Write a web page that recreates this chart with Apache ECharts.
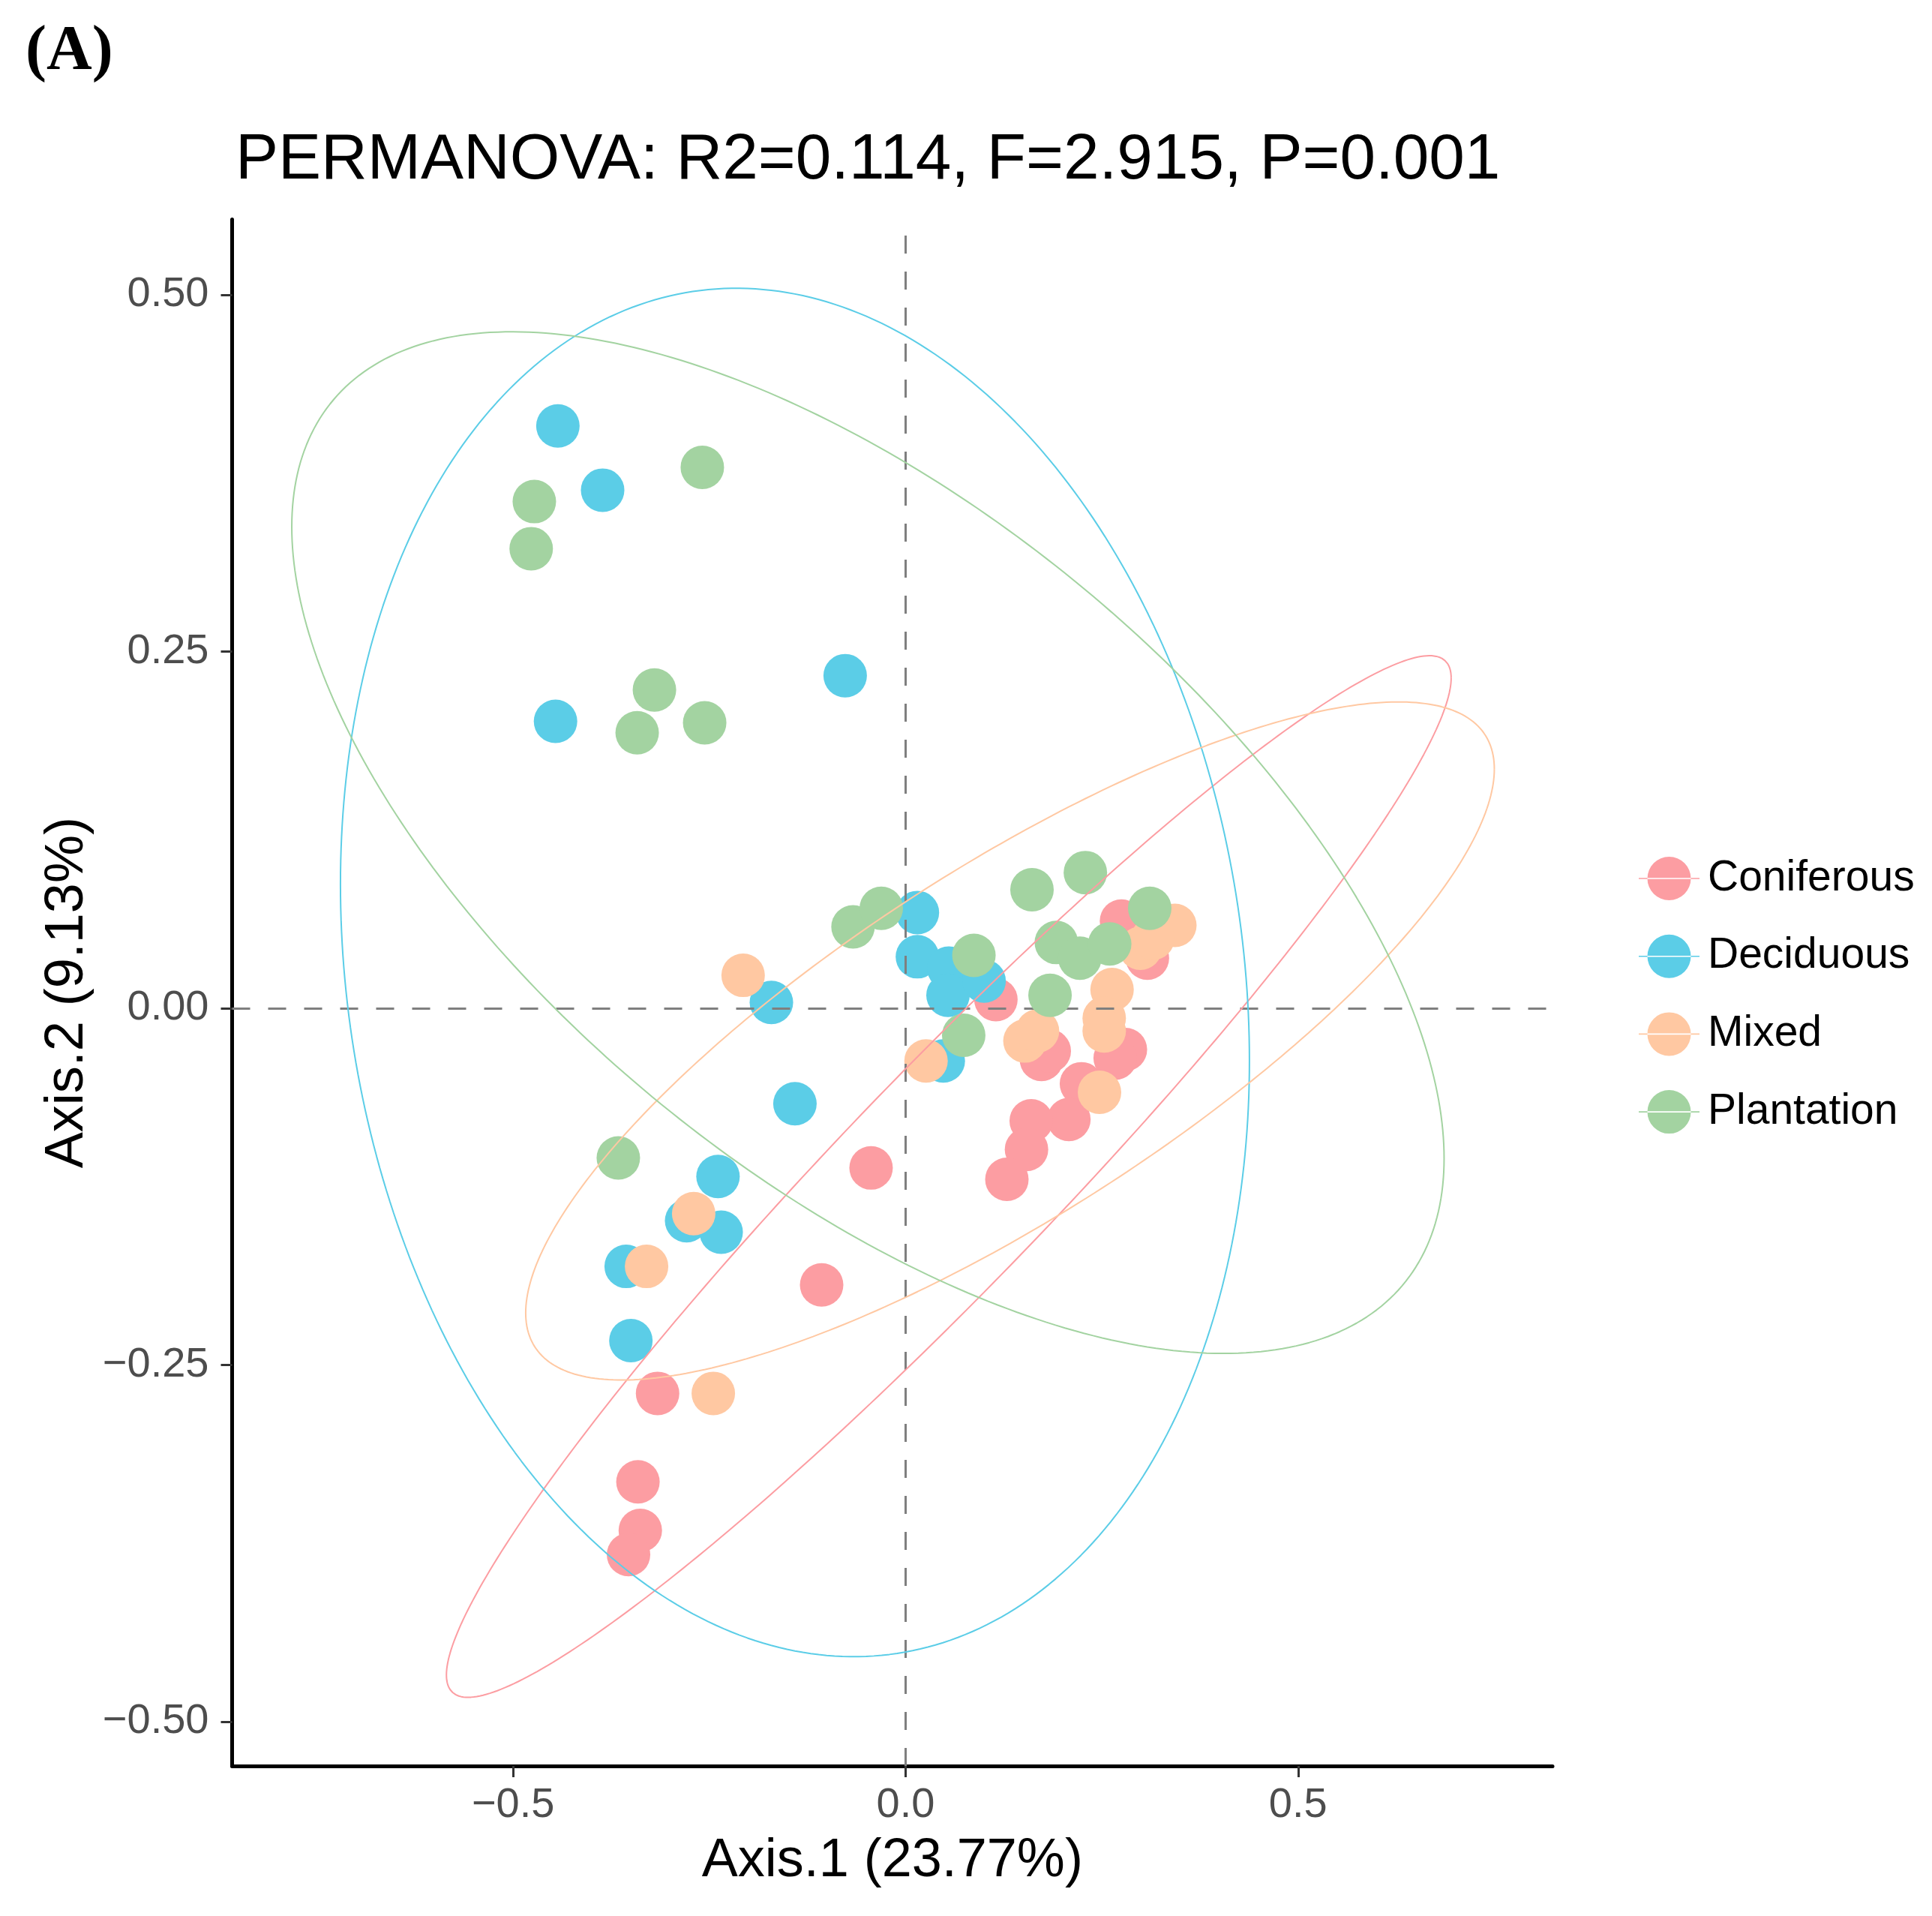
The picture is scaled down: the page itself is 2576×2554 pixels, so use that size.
<!DOCTYPE html>
<html>
<head>
<meta charset="utf-8">
<script src="https://cdn.jsdelivr.net/npm/echarts@6/dist/echarts.min.js"></script>
<style>
html,body{margin:0;padding:0;background:#ffffff;}
#chart{width:2576px;height:2554px;}
</style>
</head>
<body>
<div id="chart"></div>
<script>
// ---------- data ----------
const categories = ['Coniferous', 'Deciduous', 'Mixed', 'Plantation'];

const coniferous = [
  [-0.044, -0.112], [-0.107, -0.194], [-0.316, -0.270], [-0.341, -0.332],
  [-0.338, -0.366], [-0.353, -0.383], [0.115, 0.006], [0.275, 0.061],
  [0.308, 0.035], [0.173, -0.036], [0.183, -0.030], [0.280, -0.029],
  [0.267, -0.035], [0.224, -0.053], [0.208, -0.078], [0.160, -0.079],
  [0.154, -0.099], [0.129, -0.120]
];
const deciduous = [
  [-0.443, 0.408], [-0.386, 0.363], [-0.077, 0.233], [-0.446, 0.201],
  [-0.171, 0.004], [-0.141, -0.067], [-0.239, -0.118], [-0.279, -0.149],
  [-0.235, -0.157], [-0.356, -0.181], [-0.350, -0.233], [0.015, 0.067],
  [0.015, 0.036], [0.055, 0.028], [0.054, 0.009], [0.100, 0.019],
  [0.048, -0.037]
];
const mixed = [
  [-0.207, 0.023], [-0.270, -0.144], [-0.330, -0.181], [-0.245, -0.270],
  [0.026, -0.037], [0.152, -0.023], [0.168, -0.016], [0.263, 0.013],
  [0.253, -0.007], [0.253, -0.016], [0.247, -0.059], [0.343, 0.058],
  [0.299, 0.042], [0.315, 0.049]
];
const plantation = [
  [-0.259, 0.379], [-0.473, 0.355], [-0.477, 0.322], [-0.320, 0.223],
  [-0.342, 0.193], [-0.256, 0.200], [-0.366, -0.105], [-0.067, 0.057],
  [-0.031, 0.070], [0.087, 0.037], [0.161, 0.083], [0.229, 0.095],
  [0.311, 0.070], [0.192, 0.046], [0.222, 0.035], [0.260, 0.045],
  [0.184, 0.009], [0.074, -0.019]
];

// ellipse: [centre x, centre y, half-width x, half-height y, correlation]
const ellipseConiferous = [0.055, -0.118, 0.640, 0.365, 0.957];
const ellipseDeciduous  = [-0.141, 0.025, 0.579, 0.4795, -0.129];
const ellipseMixed      = [0.133, -0.023, 0.617, 0.2376, 0.802];
const ellipsePlantation = [-0.048, 0.116, 0.734, 0.358, -0.618];

const xTicks = [-0.5, 0, 0.5];
const yTicks = [-0.5, -0.25, 0, 0.25, 0.5];

const titleText = 'PERMANOVA: R2=0.114, F=2.915, P=0.001';
const xName = 'Axis.1 (23.77%)';
const yName = 'Axis.2 (9.13%)';
const panelTag = '(A)';

// ---------- styles ----------
const colors = ['#FC9DA2', '#5BCDE7', '#FFC8A2', '#A3D3A1'];
const FONT = '"Liberation Sans", Arial, Helvetica, sans-serif';

function ellipseOutline(p) {
  const cx = p[0], cy = p[1], hx = p[2], hy = p[3], r = p[4];
  const s = Math.sqrt(1 - r * r);
  const pts = [];
  for (let i = 0; i <= 360; i++) {
    const t = i * Math.PI / 180;
    pts.push([cx + hx * Math.cos(t), cy + hy * (r * Math.cos(t) + s * Math.sin(t))]);
  }
  return pts;
}
function minusFmt(str) { return str.replace('-', '\u2212'); }

const pointSets = [coniferous, deciduous, mixed, plantation];
const ellipseSets = [ellipseConiferous, ellipseDeciduous, ellipseMixed, ellipsePlantation];

const series = [];
series.push({
  type: 'scatter', name: 'refLines', data: [], silent: true, z: 1,
  markLine: {
    silent: true, animation: false, symbol: ['none', 'none'],
    label: { show: false },
    lineStyle: { color: '#7F7F7F', width: 3, type: [24, 24] },
    data: [{ xAxis: 0 }, { yAxis: 0 }]
  }
});
categories.forEach((c, i) => {
  series.push({
    type: 'scatter', name: c, data: pointSets[i], symbol: 'circle', symbolSize: 58,
    itemStyle: { color: colors[i], opacity: 1 }, z: 2 + i, silent: true
  });
});
categories.forEach((c, i) => {
  series.push({
    type: 'line', name: c + ' ellipse', data: ellipseOutline(ellipseSets[i]),
    showSymbol: false, symbol: 'none', smooth: false, silent: true, z: 10,
    lineStyle: { color: colors[i], width: 2 }, itemStyle: { color: colors[i] }
  });
});

const chart = echarts.init(document.getElementById('chart'), null, { renderer: 'canvas' });
chart.setOption({
  animation: false,
  backgroundColor: '#ffffff',
  textStyle: { fontFamily: FONT },
  title: {
    text: titleText, left: 309, top: 166,
    textStyle: { fontSize: 85.5, fontWeight: 'normal', color: '#000000', fontFamily: FONT }
  },
  graphic: [{
    type: 'text', left: 34, top: 28,
    style: { text: panelTag, font: 'bold 84px "Liberation Serif", "Times New Roman", serif', fill: '#000000' }
  }],
  legend: {
    data: categories, orient: 'vertical', left: 2180, top: 1137,
    itemWidth: 81, itemHeight: 58, itemGap: 45.7, selectedMode: false,
    icon: 'path://M0 28.2H81V29.8H0Z M11.5 29A29 29 0 1 0 69.5 29A29 29 0 1 0 11.5 29Z',
    textStyle: { fontSize: 57, color: '#000000', fontFamily: FONT, padding: [0, 0, 0, 6] }
  },
  grid: { left: 309.5, right: 506, top: 292.4, bottom: 200, containLabel: false },
  xAxis: {
    type: 'value', min: -0.858, max: 0.8241,
    name: xName, nameLocation: 'middle', nameGap: 91,
    nameTextStyle: { fontSize: 72, color: '#000000', fontFamily: FONT },
    axisLine: { show: true, onZero: false, lineStyle: { color: '#000000', width: 5 } },
    axisTick: { show: true, customValues: xTicks, length: 15, lineStyle: { color: '#333333', width: 3 } },
    axisLabel: { show: true, customValues: xTicks, margin: 25, fontSize: 56, color: '#4D4D4D', fontFamily: FONT,
      formatter: v => minusFmt(Number(v).toFixed(1)) },
    splitLine: { show: false }
  },
  yAxis: {
    type: 'value', min: -0.5311, max: 0.5528,
    name: yName, nameLocation: 'middle', nameGap: 176,
    nameTextStyle: { fontSize: 72, color: '#000000', fontFamily: FONT },
    axisLine: { show: true, onZero: false, lineStyle: { color: '#000000', width: 5 } },
    axisTick: { show: true, customValues: yTicks, length: 15, lineStyle: { color: '#333333', width: 3 } },
    axisLabel: { show: true, customValues: yTicks, margin: 31, fontSize: 56, color: '#4D4D4D', fontFamily: FONT,
      formatter: v => minusFmt(Number(v).toFixed(2)) },
    splitLine: { show: false }
  },
  series: series
});
</script>
</body>
</html>
